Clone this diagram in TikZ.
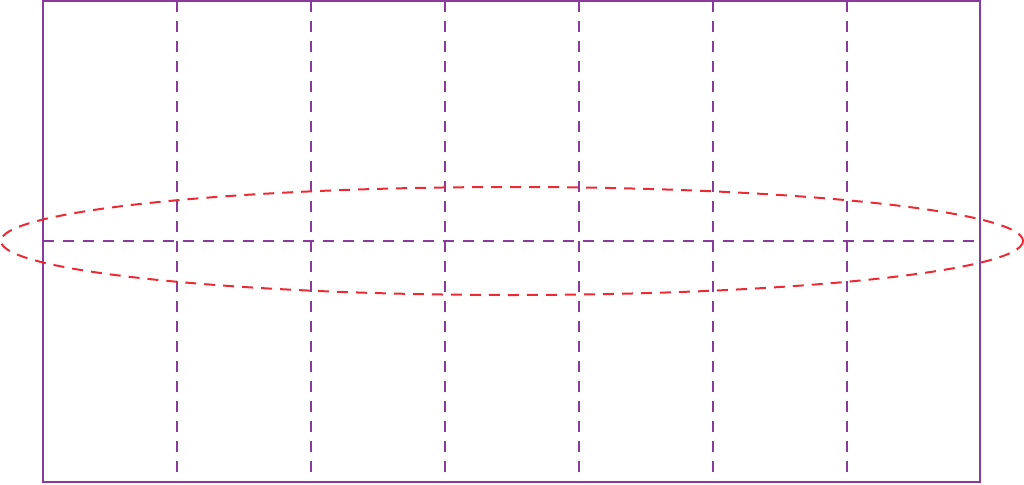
\documentclass[tikz,border=0pt]{standalone}
\usepackage{tikz}
\definecolor{gridpurple}{HTML}{8A3A9C}
\definecolor{ringred}{HTML}{EC2A34}
\tikzset{
    outline/.style={draw=gridpurple, line width=2pt},
    foldline/.style={draw=gridpurple, line width=2pt, dash pattern=on 11pt off 9pt},
    ringline/.style={draw=ringred, line width=2pt, dash pattern=on 11pt off 8pt}
}

\begin{document}
\begin{tikzpicture}[x=1pt,y=-1pt]
    \useasboundingbox (0,0) rectangle (1024,484);
    \coordinate (tl) at (43,1);
    \coordinate (br) at (980,482);
    \coordinate (ml) at (43,241);
    \coordinate (mr) at (980,241);
    \coordinate (c) at (512,241);

    \foreach \x in {177,311,445,579,713,847}
        \draw[foldline] (\x,1) -- (\x,482);
    \draw[foldline] (ml) -- (mr);
    \draw[outline] (tl) rectangle (br);

    \draw[ringline] (c) ellipse [x radius=511, y radius=54];
\end{tikzpicture}
\end{document}
